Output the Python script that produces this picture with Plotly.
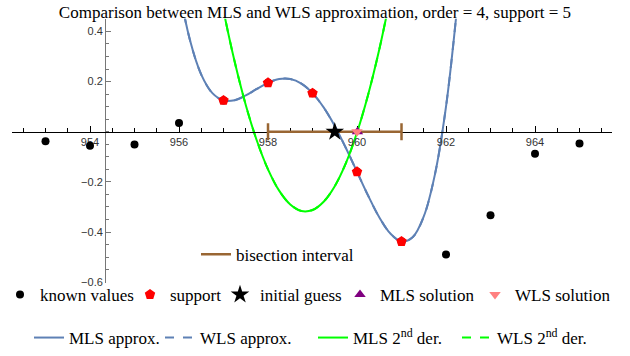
import plotly.graph_objects as go

W, H = 630, 356

# Known samples and the five support nodes
known_x = [953, 954, 955, 956, 957, 958, 959, 960, 961, 962, 963, 964, 965]
known_y = [-0.038, -0.056, -0.051, 0.035, 0.125, 0.195, 0.154, -0.160, -0.438, -0.490, -0.333, -0.088, -0.047]

support_x = [957, 958, 959, 960, 961]
support_y = [0.125, 0.195, 0.154, -0.160, -0.438]

guess_x, guess_y = [959.5], [0.0]
mls_sol_x, mls_sol_y = [960.01], [0.0]
wls_sol_x, wls_sol_y = [960.0], [0.0]

bisect_x = [958, 961]
bisect_y = [0.0, 0.0]

# Approximation curve (same for MLS and WLS)
approx_x = [955.75, 956.0, 956.25, 956.5, 956.75, 957.0, 957.25, 957.5, 957.75, 958.0,
            958.25, 958.5, 958.75, 959.0, 959.25, 959.5, 959.75, 960.0, 960.25, 960.5,
            960.75, 961.0, 961.25, 961.5, 961.75, 962.0, 962.25]
approx_y = [0.891, 0.577, 0.363, 0.228, 0.154, 0.125, 0.126, 0.145, 0.171, 0.195,
            0.210, 0.210, 0.192, 0.154, 0.097, 0.023, -0.065, -0.160, -0.255, -0.341,
            -0.406, -0.438, -0.421, -0.338, -0.171, 0.100, 0.498]

# Second derivative of the approximation
der2_x = [956.75, 957.0, 957.25, 957.5, 957.75, 958.0, 958.25, 958.5, 958.75, 959.0,
          959.25, 959.5, 959.75, 960.0, 960.25, 960.5, 960.75]
der2_y = [0.715, 0.483, 0.280, 0.107, -0.036, -0.150, -0.235, -0.290, -0.316, -0.312,
          -0.279, -0.217, -0.125, -0.003, 0.148, 0.328, 0.538]

X_RANGE = [952.247, 965.730]
Y_RANGE = [-0.6039, 0.4510]
Y_AXIS_AT = 954.36

BLUE = "#5E81B5"
GREEN = "#00FF00"
BROWN = "#996633"
SERIF = "Liberation Serif"

# Plot frame in pixels (paper spans the whole figure)
PX_L, PX_R, PX_T, PX_B = 12, 612, 19, 288
X_DOM = [PX_L / W, PX_R / W]
Y_DOM = [1 - PX_B / H, 1 - PX_T / H]

y0_pos = Y_DOM[0] + (0 - Y_RANGE[0]) / (Y_RANGE[1] - Y_RANGE[0]) * (Y_DOM[1] - Y_DOM[0])
yaxis_pos = X_DOM[0] + (Y_AXIS_AT - X_RANGE[0]) / (X_RANGE[1] - X_RANGE[0]) * (X_DOM[1] - X_DOM[0])

XA, YA = "x2", "y2"  # full-width data axes

fig = go.Figure()

# Curves go on the subplot whose left edge carries the vertical axis
# (same scale, starting at Y_AXIS_AT; the curves lie entirely right of it).
fig.add_trace(go.Scatter(x=approx_x, y=approx_y, mode="lines", name="WLS approx.",
                         xaxis="x", yaxis="y",
                         line=dict(color=BLUE, width=2, dash="dash", shape="spline"),
                         legend="legend7"))
fig.add_trace(go.Scatter(x=approx_x, y=approx_y, mode="lines", name="MLS approx.",
                         xaxis="x", yaxis="y",
                         line=dict(color=BLUE, width=2, shape="spline"),
                         legend="legend6"))
fig.add_trace(go.Scatter(x=der2_x, y=der2_y, mode="lines", name="WLS 2<sup>nd</sup> der.",
                         xaxis="x", yaxis="y",
                         line=dict(color=GREEN, width=2, dash="dash", shape="spline"),
                         legend="legend9"))
fig.add_trace(go.Scatter(x=der2_x, y=der2_y, mode="lines", name="MLS 2<sup>nd</sup> der.",
                         xaxis="x", yaxis="y",
                         line=dict(color=GREEN, width=2, shape="spline"),
                         legend="legend8"))

# Interval and points on the full-width axes
fig.add_trace(go.Scatter(x=bisect_x, y=bisect_y, mode="lines", name="bisection interval",
                         xaxis=XA, yaxis=YA,
                         line=dict(color=BROWN, width=2.5), legend="legend"))
fig.add_trace(go.Scatter(x=bisect_x, y=bisect_y, mode="markers", showlegend=False,
                         xaxis=XA, yaxis=YA, hoverinfo="skip",
                         marker=dict(symbol="line-ns", size=12, line=dict(color=BROWN, width=2.5))))
fig.add_trace(go.Scatter(x=known_x, y=known_y, mode="markers", name="known values",
                         xaxis=XA, yaxis=YA,
                         marker=dict(color="black", size=8), legend="legend2"))
fig.add_trace(go.Scatter(x=support_x, y=support_y, mode="markers", name="support",
                         xaxis=XA, yaxis=YA,
                         marker=dict(color="#FF0000", size=11, symbol="pentagon"),
                         legend="legend3"))
fig.add_trace(go.Scatter(x=guess_x, y=guess_y, mode="markers", name="initial guess",
                         xaxis=XA, yaxis=YA,
                         marker=dict(color="black", size=14, symbol="star"),
                         legend="legend4"))
fig.add_trace(go.Scatter(x=mls_sol_x, y=mls_sol_y, mode="markers", name="MLS solution",
                         xaxis=XA, yaxis=YA,
                         marker=dict(color="#800080", size=10, symbol="triangle-up"),
                         legend="legend5"))
fig.add_trace(go.Scatter(x=wls_sol_x, y=wls_sol_y, mode="markers", name="WLS solution",
                         xaxis=XA, yaxis=YA,
                         marker=dict(color="#FF8080", size=10, symbol="triangle-down"),
                         legend="legend10"))


def leg(text_x, cy):
    # legend placed by pixel position of its text start and vertical centre
    return dict(x=max(text_x - 40, 0) / W, y=1 - cy / H,
                xanchor="left", yanchor="middle", bgcolor="rgba(0,0,0,0)",
                font=dict(family=SERIF, size=17, color="black"), itemwidth=30)


tick_font = dict(family="Liberation Sans", size=11, color="#333")

fig.update_layout(
    width=W, height=H,
    margin=dict(l=0, r=0, t=0, b=0),
    paper_bgcolor="white", plot_bgcolor="rgba(0,0,0,0)",
    title=dict(text="Comparison between MLS and WLS approximation, order = 4, support = 5",
               x=0.5, xref="container", xanchor="center",
               y=1 - 12 / H, yref="container", yanchor="middle",
               font=dict(family=SERIF, size=17, color="black")),
    showlegend=True,
    legend=leg(236, 259),
    legend2=leg(36, 300),
    legend3=leg(170, 300),
    legend4=leg(260, 300),
    legend5=leg(380, 300),
    legend10=leg(515, 300),
    legend6=leg(69, 344),
    legend7=leg(200, 344),
    legend8=leg(353, 344),
    legend9=leg(497, 344),
    # Vertical axis: left edge of a domain that starts at x = Y_AXIS_AT
    xaxis=dict(domain=[yaxis_pos, X_DOM[1]], anchor="y", range=[Y_AXIS_AT, X_RANGE[1]],
               visible=False, showgrid=False, zeroline=False),
    yaxis=dict(
        domain=Y_DOM, anchor="x", range=Y_RANGE, side="left",
        showgrid=False, zeroline=False, showline=True, linecolor="#777", linewidth=1,
        tickmode="array", tickvals=[-0.6, -0.4, -0.2, 0.2, 0.4],
        ticktext=["−0.6", "−0.4", "−0.2", "0.2", "0.4"],
        ticks="inside", ticklen=5, tickcolor="#777", tickwidth=1, tickfont=tick_font,
        minor=dict(tickmode="linear", dtick=0.05, tick0=0, ticks="inside", ticklen=3,
                   tickcolor="#777"),
    ),
    # Full-width data axes; the horizontal one is drawn through y = 0
    xaxis2=dict(
        domain=X_DOM, anchor="free", position=y0_pos, range=X_RANGE, side="bottom",
        showgrid=False, zeroline=False, showline=True, linecolor="black", linewidth=1.2,
        tickmode="array", tickvals=[954, 956, 958, 960, 962, 964],
        ticks="inside", ticklen=6, tickcolor="black", tickwidth=1, tickfont=tick_font,
        minor=dict(tickmode="linear", dtick=0.5, tick0=953, ticks="inside", ticklen=3.5,
                   tickcolor="black"),
        layer="below traces",
    ),
    yaxis2=dict(domain=Y_DOM, anchor="x2", range=Y_RANGE, visible=False,
                showgrid=False, zeroline=False),
)

fig.write_html("out.html")
